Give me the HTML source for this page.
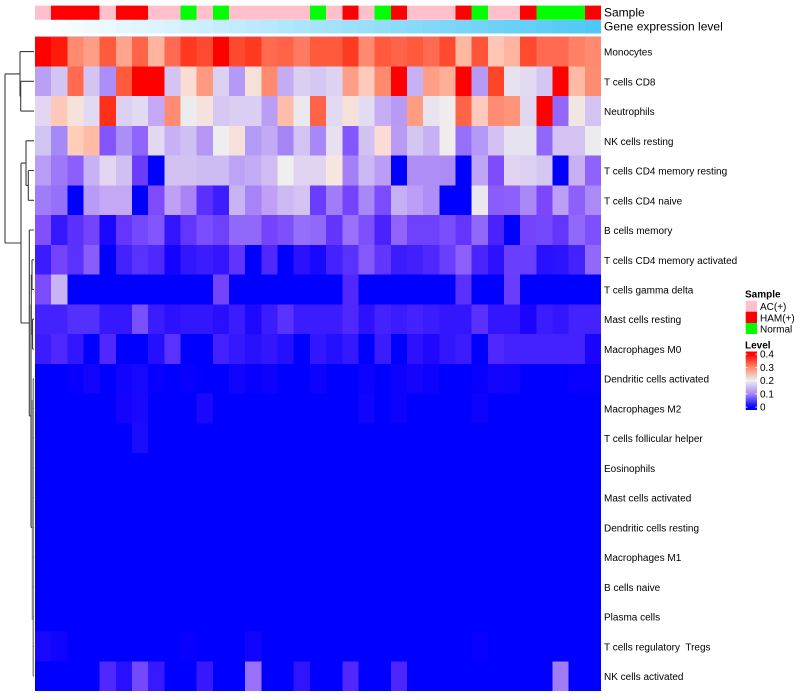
<!DOCTYPE html>
<html><head><meta charset="utf-8"><style>
html,body{margin:0;padding:0;background:#fff;}
svg{display:block;}
text{font-family:"Liberation Sans",Arial,sans-serif;fill:#000;}
</style></head><body>
<svg width="800" height="700" viewBox="0 0 800 700" xmlns="http://www.w3.org/2000/svg">
<rect width="800" height="700" fill="#fff"/>
<!-- Sample annotation -->
<svg x="35" y="5.6" width="566" height="14.2" viewBox="0 0 35 1" preserveAspectRatio="none" shape-rendering="crispEdges">
<rect x="0" y="0" width="35" height="1" fill="#ffc0cb"/>
<rect x="1" width="3" height="1" fill="#f00"/><rect x="5" width="2" height="1" fill="#f00"/>
<rect x="9" width="1" height="1" fill="#0f0"/><rect x="11" width="1" height="1" fill="#0f0"/>
<rect x="17" width="1" height="1" fill="#0f0"/><rect x="19" width="1" height="1" fill="#f00"/>
<rect x="21" width="1" height="1" fill="#0f0"/><rect x="22" width="1" height="1" fill="#f00"/>
<rect x="26" width="1" height="1" fill="#f00"/><rect x="27" width="1" height="1" fill="#0f0"/>
<rect x="30" width="1" height="1" fill="#f00"/><rect x="31" width="3" height="1" fill="#0f0"/>
<rect x="34" width="1" height="1" fill="#f00"/>
</svg>
<!-- Gene expression level -->
<svg x="35" y="19.8" width="566" height="13.7" viewBox="0 0 35 1" preserveAspectRatio="none" shape-rendering="crispEdges">
<rect x="0" width="1" height="1" fill="#ffffff"/><rect x="1" width="1" height="1" fill="#fafdff"/><rect x="2" width="1" height="1" fill="#f5fcff"/><rect x="3" width="1" height="1" fill="#effafe"/><rect x="4" width="1" height="1" fill="#eaf9fe"/><rect x="5" width="1" height="1" fill="#e5f7fe"/><rect x="6" width="1" height="1" fill="#e0f5fe"/><rect x="7" width="1" height="1" fill="#dbf4fd"/><rect x="8" width="1" height="1" fill="#d6f2fd"/><rect x="9" width="1" height="1" fill="#d0f0fd"/><rect x="10" width="1" height="1" fill="#cbeffd"/><rect x="11" width="1" height="1" fill="#c6edfc"/><rect x="12" width="1" height="1" fill="#c1ecfc"/><rect x="13" width="1" height="1" fill="#bceafc"/><rect x="14" width="1" height="1" fill="#b7e8fc"/><rect x="15" width="1" height="1" fill="#b1e7fb"/><rect x="16" width="1" height="1" fill="#ace5fb"/><rect x="17" width="1" height="1" fill="#a7e4fb"/><rect x="18" width="1" height="1" fill="#a2e2fb"/><rect x="19" width="1" height="1" fill="#9de0fb"/><rect x="20" width="1" height="1" fill="#97dffa"/><rect x="21" width="1" height="1" fill="#92ddfa"/><rect x="22" width="1" height="1" fill="#8ddbfa"/><rect x="23" width="1" height="1" fill="#88dafa"/><rect x="24" width="1" height="1" fill="#83d8f9"/><rect x="25" width="1" height="1" fill="#7ed7f9"/><rect x="26" width="1" height="1" fill="#78d5f9"/><rect x="27" width="1" height="1" fill="#73d3f9"/><rect x="28" width="1" height="1" fill="#6ed2f8"/><rect x="29" width="1" height="1" fill="#69d0f8"/><rect x="30" width="1" height="1" fill="#64cff8"/><rect x="31" width="1" height="1" fill="#5fcdf8"/><rect x="32" width="1" height="1" fill="#59cbf7"/><rect x="33" width="1" height="1" fill="#54caf7"/><rect x="34" width="1" height="1" fill="#4fc8f7"/>
</svg>
<!-- Heatmap -->
<svg x="35" y="36.7" width="566" height="654.3" viewBox="0 0 35 22" preserveAspectRatio="none" shape-rendering="crispEdges">
<rect x="0" y="0" width="35" height="22" fill="#0000ff"/>
<g transform="translate(0,0)">
<rect x="0" width="1" height="1" fill="#ff0000"/><rect x="1" width="1" height="1" fill="#ff1a0a"/><rect x="2" width="1" height="1" fill="#ff8a6e"/><rect x="3" width="1" height="1" fill="#ff9e86"/><rect x="4" width="1" height="1" fill="#ff5a3c"/><rect x="5" width="1" height="1" fill="#ffa48c"/><rect x="6" width="1" height="1" fill="#ff6448"/><rect x="7" width="1" height="1" fill="#ffb49e"/><rect x="8" width="1" height="1" fill="#ff6a50"/><rect x="9" width="1" height="1" fill="#ff3820"/><rect x="10" width="1" height="1" fill="#ff4a30"/><rect x="11" width="1" height="1" fill="#ff0000"/><rect x="12" width="1" height="1" fill="#ff4a30"/><rect x="13" width="1" height="1" fill="#ff3a20"/><rect x="14" width="1" height="1" fill="#ff6a50"/><rect x="15" width="1" height="1" fill="#ff6448"/><rect x="16" width="1" height="1" fill="#ff7a60"/><rect x="17" width="1" height="1" fill="#ff5a3c"/><rect x="18" width="1" height="1" fill="#ff5a3c"/><rect x="19" width="1" height="1" fill="#ff3a22"/><rect x="20" width="1" height="1" fill="#ff8a70"/><rect x="21" width="1" height="1" fill="#ff5a3c"/><rect x="22" width="1" height="1" fill="#ff6448"/><rect x="23" width="1" height="1" fill="#ff5a3c"/><rect x="24" width="1" height="1" fill="#ff6a50"/><rect x="25" width="1" height="1" fill="#ff4a30"/><rect x="26" width="1" height="1" fill="#ffb8a0"/><rect x="27" width="1" height="1" fill="#ff5438"/><rect x="28" width="1" height="1" fill="#ffc6b6"/><rect x="29" width="1" height="1" fill="#ffb4a0"/><rect x="30" width="1" height="1" fill="#ff4a30"/><rect x="31" width="1" height="1" fill="#ff6a50"/><rect x="32" width="1" height="1" fill="#ff6a50"/><rect x="33" width="1" height="1" fill="#ff8062"/><rect x="34" width="1" height="1" fill="#ff8a6e"/>
</g>
<g transform="translate(0,1)">
<rect x="0" width="1" height="1" fill="#b9a0f5"/><rect x="1" width="1" height="1" fill="#d4c4f2"/><rect x="2" width="1" height="1" fill="#ff6a50"/><rect x="3" width="1" height="1" fill="#d4c4f2"/><rect x="4" width="1" height="1" fill="#ad8ef8"/><rect x="5" width="1" height="1" fill="#ff5a3c"/><rect x="6" width="1" height="1" fill="#ff0000"/><rect x="7" width="1" height="1" fill="#ff0000"/><rect x="8" width="1" height="1" fill="#d3c4f2"/><rect x="9" width="1" height="1" fill="#fadcd4"/><rect x="10" width="1" height="1" fill="#ff9a80"/><rect x="11" width="1" height="1" fill="#dcd0f2"/><rect x="12" width="1" height="1" fill="#b49af6"/><rect x="13" width="1" height="1" fill="#f5e0da"/><rect x="14" width="1" height="1" fill="#ff8a70"/><rect x="15" width="1" height="1" fill="#c4acf5"/><rect x="16" width="1" height="1" fill="#dacef2"/><rect x="17" width="1" height="1" fill="#d4c8f2"/><rect x="18" width="1" height="1" fill="#dcd2f2"/><rect x="19" width="1" height="1" fill="#ff9e86"/><rect x="20" width="1" height="1" fill="#ffcabb"/><rect x="21" width="1" height="1" fill="#ff8a6e"/><rect x="22" width="1" height="1" fill="#ff0000"/><rect x="23" width="1" height="1" fill="#c8b0f4"/><rect x="24" width="1" height="1" fill="#ff9e86"/><rect x="25" width="1" height="1" fill="#ffae98"/><rect x="26" width="1" height="1" fill="#ff0000"/><rect x="27" width="1" height="1" fill="#b69af6"/><rect x="28" width="1" height="1" fill="#ff4428"/><rect x="29" width="1" height="1" fill="#e8e2ef"/><rect x="30" width="1" height="1" fill="#e2daf0"/><rect x="31" width="1" height="1" fill="#d4c6f2"/><rect x="32" width="1" height="1" fill="#ff0000"/><rect x="33" width="1" height="1" fill="#ffbaa4"/><rect x="34" width="1" height="1" fill="#ff8c70"/>
</g>
<g transform="translate(0,2)">
<rect x="0" width="1" height="1" fill="#e2d6f2"/><rect x="1" width="1" height="1" fill="#ffc8b8"/><rect x="2" width="1" height="1" fill="#f5e2dc"/><rect x="3" width="1" height="1" fill="#e2daf2"/><rect x="4" width="1" height="1" fill="#ff301a"/><rect x="5" width="1" height="1" fill="#dcd0f2"/><rect x="6" width="1" height="1" fill="#e2daf2"/><rect x="7" width="1" height="1" fill="#c4a8f5"/><rect x="8" width="1" height="1" fill="#ff8c72"/><rect x="9" width="1" height="1" fill="#ecebee"/><rect x="10" width="1" height="1" fill="#f5e2de"/><rect x="11" width="1" height="1" fill="#d6c8f2"/><rect x="12" width="1" height="1" fill="#dacef2"/><rect x="13" width="1" height="1" fill="#dacef2"/><rect x="14" width="1" height="1" fill="#ba9ef6"/><rect x="15" width="1" height="1" fill="#ffbca8"/><rect x="16" width="1" height="1" fill="#ebe8ef"/><rect x="17" width="1" height="1" fill="#ff6448"/><rect x="18" width="1" height="1" fill="#e2daf2"/><rect x="19" width="1" height="1" fill="#f5e0da"/><rect x="20" width="1" height="1" fill="#e2dcf2"/><rect x="21" width="1" height="1" fill="#c6aef5"/><rect x="22" width="1" height="1" fill="#b89af6"/><rect x="23" width="1" height="1" fill="#ff9c82"/><rect x="24" width="1" height="1" fill="#e8e4ef"/><rect x="25" width="1" height="1" fill="#f0ebec"/><rect x="26" width="1" height="1" fill="#ff6448"/><rect x="27" width="1" height="1" fill="#ffcabd"/><rect x="28" width="1" height="1" fill="#ff8c72"/><rect x="29" width="1" height="1" fill="#ff947a"/><rect x="30" width="1" height="1" fill="#e0d6f2"/><rect x="31" width="1" height="1" fill="#ff0000"/><rect x="32" width="1" height="1" fill="#9466fa"/><rect x="33" width="1" height="1" fill="#f2e6e2"/><rect x="34" width="1" height="1" fill="#d4c2f2"/>
</g>
<g transform="translate(0,3)">
<rect x="0" width="1" height="1" fill="#d0c4f0"/><rect x="1" width="1" height="1" fill="#a58af7"/><rect x="2" width="1" height="1" fill="#ffcdb8"/><rect x="3" width="1" height="1" fill="#ffbba5"/><rect x="4" width="1" height="1" fill="#8255fd"/><rect x="5" width="1" height="1" fill="#ac8ef7"/><rect x="6" width="1" height="1" fill="#8e66fb"/><rect x="7" width="1" height="1" fill="#e2d8f2"/><rect x="8" width="1" height="1" fill="#c8b0f5"/><rect x="9" width="1" height="1" fill="#cfc0f2"/><rect x="10" width="1" height="1" fill="#b596f5"/><rect x="11" width="1" height="1" fill="#eeeeee"/><rect x="12" width="1" height="1" fill="#f5e0da"/><rect x="13" width="1" height="1" fill="#b39bf6"/><rect x="14" width="1" height="1" fill="#c4aaf5"/><rect x="15" width="1" height="1" fill="#a585f6"/><rect x="16" width="1" height="1" fill="#d3c2f2"/><rect x="17" width="1" height="1" fill="#a888f6"/><rect x="18" width="1" height="1" fill="#e8e0ee"/><rect x="19" width="1" height="1" fill="#8257fd"/><rect x="20" width="1" height="1" fill="#d1c2f1"/><rect x="21" width="1" height="1" fill="#fadcd4"/><rect x="22" width="1" height="1" fill="#b99bf6"/><rect x="23" width="1" height="1" fill="#d3c7f2"/><rect x="24" width="1" height="1" fill="#c8b0f4"/><rect x="25" width="1" height="1" fill="#f0ecec"/><rect x="26" width="1" height="1" fill="#9770fa"/><rect x="27" width="1" height="1" fill="#b49af6"/><rect x="28" width="1" height="1" fill="#d4c0f2"/><rect x="29" width="1" height="1" fill="#e7e2ef"/><rect x="30" width="1" height="1" fill="#e7e2ef"/><rect x="31" width="1" height="1" fill="#9166fa"/><rect x="32" width="1" height="1" fill="#d3c2f2"/><rect x="33" width="1" height="1" fill="#d3c2f2"/><rect x="34" width="1" height="1" fill="#ecebee"/>
</g>
<g transform="translate(0,4)">
<rect x="0" width="1" height="1" fill="#b89cf5"/><rect x="1" width="1" height="1" fill="#9d78f8"/><rect x="2" width="1" height="1" fill="#8a5ffc"/><rect x="3" width="1" height="1" fill="#c7b2f4"/><rect x="4" width="1" height="1" fill="#e2d6f2"/><rect x="5" width="1" height="1" fill="#d0c0f2"/><rect x="6" width="1" height="1" fill="#6a3cfd"/><rect x="8" width="1" height="1" fill="#d2c2f2"/><rect x="9" width="1" height="1" fill="#d2c2f2"/><rect x="10" width="1" height="1" fill="#cdbcf2"/><rect x="11" width="1" height="1" fill="#cdbcf3"/><rect x="12" width="1" height="1" fill="#bda2f6"/><rect x="13" width="1" height="1" fill="#c4abf5"/><rect x="14" width="1" height="1" fill="#cfbcf3"/><rect x="15" width="1" height="1" fill="#efeff0"/><rect x="16" width="1" height="1" fill="#e0d4f2"/><rect x="17" width="1" height="1" fill="#e0d4f2"/><rect x="18" width="1" height="1" fill="#f7e6e0"/><rect x="19" width="1" height="1" fill="#a380f8"/><rect x="20" width="1" height="1" fill="#ccb8f3"/><rect x="21" width="1" height="1" fill="#bb9cf6"/><rect x="23" width="1" height="1" fill="#b08ef7"/><rect x="24" width="1" height="1" fill="#b08ef7"/><rect x="25" width="1" height="1" fill="#ae8cf7"/><rect x="27" width="1" height="1" fill="#c0a4f5"/><rect x="28" width="1" height="1" fill="#7e4cfc"/><rect x="29" width="1" height="1" fill="#e0d4f2"/><rect x="30" width="1" height="1" fill="#dcd0f2"/><rect x="31" width="1" height="1" fill="#d4c8f2"/><rect x="33" width="1" height="1" fill="#c9b0f5"/><rect x="34" width="1" height="1" fill="#8e62fb"/>
</g>
<g transform="translate(0,5)">
<rect x="0" width="1" height="1" fill="#a07cf8"/><rect x="1" width="1" height="1" fill="#9570f9"/><rect x="3" width="1" height="1" fill="#b89bf6"/><rect x="4" width="1" height="1" fill="#c4a8f5"/><rect x="5" width="1" height="1" fill="#c4a8f5"/><rect x="7" width="1" height="1" fill="#7e4afc"/><rect x="8" width="1" height="1" fill="#bea0f5"/><rect x="9" width="1" height="1" fill="#a984f7"/><rect x="10" width="1" height="1" fill="#5b30fd"/><rect x="11" width="1" height="1" fill="#3d1cfe"/><rect x="12" width="1" height="1" fill="#c8b4f4"/><rect x="13" width="1" height="1" fill="#a683f7"/><rect x="14" width="1" height="1" fill="#c0a0f6"/><rect x="15" width="1" height="1" fill="#cdbaf3"/><rect x="16" width="1" height="1" fill="#d3c2f2"/><rect x="17" width="1" height="1" fill="#6a3cfd"/><rect x="18" width="1" height="1" fill="#a07cf8"/><rect x="19" width="1" height="1" fill="#7444fc"/><rect x="20" width="1" height="1" fill="#a888f7"/><rect x="21" width="1" height="1" fill="#7c4cfc"/><rect x="22" width="1" height="1" fill="#c6b0f4"/><rect x="23" width="1" height="1" fill="#bd9ef6"/><rect x="24" width="1" height="1" fill="#b08ef7"/><rect x="27" width="1" height="1" fill="#ebe6ef"/><rect x="28" width="1" height="1" fill="#8a5cfb"/><rect x="29" width="1" height="1" fill="#8e60fb"/><rect x="30" width="1" height="1" fill="#aa88f7"/><rect x="31" width="1" height="1" fill="#7c46fc"/><rect x="32" width="1" height="1" fill="#bd9ef6"/><rect x="33" width="1" height="1" fill="#8e60fb"/><rect x="34" width="1" height="1" fill="#ab8af7"/>
</g>
<g transform="translate(0,6)">
<rect x="0" width="1" height="1" fill="#8150fc"/><rect x="1" width="1" height="1" fill="#3518fe"/><rect x="2" width="1" height="1" fill="#5c30fd"/><rect x="3" width="1" height="1" fill="#7444fc"/><rect x="4" width="1" height="1" fill="#1a08fe"/><rect x="5" width="1" height="1" fill="#6436fd"/><rect x="6" width="1" height="1" fill="#7448fc"/><rect x="7" width="1" height="1" fill="#8256fc"/><rect x="8" width="1" height="1" fill="#3316fe"/><rect x="9" width="1" height="1" fill="#6436fd"/><rect x="10" width="1" height="1" fill="#7a4efc"/><rect x="11" width="1" height="1" fill="#6e42fc"/><rect x="12" width="1" height="1" fill="#9068fa"/><rect x="13" width="1" height="1" fill="#9068fa"/><rect x="14" width="1" height="1" fill="#7444fc"/><rect x="15" width="1" height="1" fill="#7c50fc"/><rect x="16" width="1" height="1" fill="#9470fa"/><rect x="17" width="1" height="1" fill="#9068fa"/><rect x="18" width="1" height="1" fill="#6436fd"/><rect x="19" width="1" height="1" fill="#9870f9"/><rect x="20" width="1" height="1" fill="#7c50fc"/><rect x="21" width="1" height="1" fill="#4a22fe"/><rect x="22" width="1" height="1" fill="#9064fa"/><rect x="23" width="1" height="1" fill="#6e42fc"/><rect x="24" width="1" height="1" fill="#6e42fc"/><rect x="25" width="1" height="1" fill="#7a4efc"/><rect x="26" width="1" height="1" fill="#6436fd"/><rect x="27" width="1" height="1" fill="#9068fa"/><rect x="28" width="1" height="1" fill="#4a22fe"/><rect x="30" width="1" height="1" fill="#7444fc"/><rect x="31" width="1" height="1" fill="#7448fc"/><rect x="32" width="1" height="1" fill="#6436fd"/><rect x="33" width="1" height="1" fill="#9068fa"/><rect x="34" width="1" height="1" fill="#7c50fc"/>
</g>
<g transform="translate(0,7)">
<rect x="0" width="1" height="1" fill="#3a1cfe"/><rect x="1" width="1" height="1" fill="#7444fc"/><rect x="2" width="1" height="1" fill="#5a32fd"/><rect x="3" width="1" height="1" fill="#8a5cfb"/><rect x="5" width="1" height="1" fill="#4422fe"/><rect x="6" width="1" height="1" fill="#5a32fd"/><rect x="7" width="1" height="1" fill="#5028fd"/><rect x="8" width="1" height="1" fill="#1404ff"/><rect x="9" width="1" height="1" fill="#3216fe"/><rect x="10" width="1" height="1" fill="#3a1cfe"/><rect x="11" width="1" height="1" fill="#3416fe"/><rect x="12" width="1" height="1" fill="#6034fd"/><rect x="14" width="1" height="1" fill="#5028fd"/><rect x="16" width="1" height="1" fill="#2c10fe"/><rect x="17" width="1" height="1" fill="#1808ff"/><rect x="18" width="1" height="1" fill="#4422fe"/><rect x="19" width="1" height="1" fill="#5a32fd"/><rect x="20" width="1" height="1" fill="#8458fb"/><rect x="21" width="1" height="1" fill="#6236fd"/><rect x="22" width="1" height="1" fill="#3a1cfe"/><rect x="23" width="1" height="1" fill="#4220fe"/><rect x="24" width="1" height="1" fill="#5028fd"/><rect x="25" width="1" height="1" fill="#6a3efd"/><rect x="26" width="1" height="1" fill="#8e60fb"/><rect x="27" width="1" height="1" fill="#4a24fe"/><rect x="28" width="1" height="1" fill="#2c10fe"/><rect x="29" width="1" height="1" fill="#6a3efd"/><rect x="30" width="1" height="1" fill="#6a3efd"/><rect x="31" width="1" height="1" fill="#2610fe"/><rect x="32" width="1" height="1" fill="#2c14fe"/><rect x="33" width="1" height="1" fill="#4422fe"/><rect x="34" width="1" height="1" fill="#9068fa"/>
</g>
<g transform="translate(0,8)">
<rect x="0" width="1" height="1" fill="#7c4cfc"/><rect x="1" width="1" height="1" fill="#c8b4f5"/><rect x="11" width="1" height="1" fill="#7444fc"/><rect x="19" width="1" height="1" fill="#5028fd"/><rect x="26" width="1" height="1" fill="#5a30fd"/><rect x="29" width="1" height="1" fill="#6a3cfd"/>
</g>
<g transform="translate(0,9)">
<rect x="0" width="1" height="1" fill="#4422fe"/><rect x="1" width="1" height="1" fill="#4422fe"/><rect x="2" width="1" height="1" fill="#5430fd"/><rect x="3" width="1" height="1" fill="#5430fd"/><rect x="4" width="1" height="1" fill="#3618fe"/><rect x="5" width="1" height="1" fill="#3618fe"/><rect x="6" width="1" height="1" fill="#7850fc"/><rect x="7" width="1" height="1" fill="#3a1cfe"/><rect x="8" width="1" height="1" fill="#2c10fe"/><rect x="9" width="1" height="1" fill="#3216fe"/><rect x="10" width="1" height="1" fill="#3216fe"/><rect x="11" width="1" height="1" fill="#2810fe"/><rect x="12" width="1" height="1" fill="#3a1cfe"/><rect x="13" width="1" height="1" fill="#1e08ff"/><rect x="14" width="1" height="1" fill="#3a1cfe"/><rect x="15" width="1" height="1" fill="#5a32fd"/><rect x="16" width="1" height="1" fill="#3a1cfe"/><rect x="17" width="1" height="1" fill="#3a1cfe"/><rect x="18" width="1" height="1" fill="#3a1cfe"/><rect x="19" width="1" height="1" fill="#5028fd"/><rect x="20" width="1" height="1" fill="#2c10fe"/><rect x="21" width="1" height="1" fill="#4422fe"/><rect x="22" width="1" height="1" fill="#3a1cfe"/><rect x="23" width="1" height="1" fill="#4422fe"/><rect x="24" width="1" height="1" fill="#3a1cfe"/><rect x="25" width="1" height="1" fill="#3416fe"/><rect x="26" width="1" height="1" fill="#3416fe"/><rect x="27" width="1" height="1" fill="#5a30fd"/><rect x="28" width="1" height="1" fill="#3416fe"/><rect x="29" width="1" height="1" fill="#3416fe"/><rect x="30" width="1" height="1" fill="#1a04ff"/><rect x="31" width="1" height="1" fill="#3a1cfe"/><rect x="32" width="1" height="1" fill="#3416fe"/><rect x="33" width="1" height="1" fill="#4422fe"/><rect x="34" width="1" height="1" fill="#4422fe"/>
</g>
<g transform="translate(0,10)">
<rect x="0" width="1" height="1" fill="#3a1cfe"/><rect x="1" width="1" height="1" fill="#5028fd"/><rect x="2" width="1" height="1" fill="#3216fe"/><rect x="4" width="1" height="1" fill="#5028fd"/><rect x="7" width="1" height="1" fill="#2410fe"/><rect x="8" width="1" height="1" fill="#5a32fd"/><rect x="11" width="1" height="1" fill="#4422fe"/><rect x="12" width="1" height="1" fill="#3418fe"/><rect x="13" width="1" height="1" fill="#2812fe"/><rect x="14" width="1" height="1" fill="#3216fe"/><rect x="15" width="1" height="1" fill="#2410fe"/><rect x="17" width="1" height="1" fill="#3216fe"/><rect x="18" width="1" height="1" fill="#2410fe"/><rect x="19" width="1" height="1" fill="#3418fe"/><rect x="21" width="1" height="1" fill="#3a1cfe"/><rect x="23" width="1" height="1" fill="#2c10fe"/><rect x="24" width="1" height="1" fill="#2008ff"/><rect x="25" width="1" height="1" fill="#3216fe"/><rect x="26" width="1" height="1" fill="#3a1cfe"/><rect x="28" width="1" height="1" fill="#5028fd"/><rect x="29" width="1" height="1" fill="#4422fe"/><rect x="30" width="1" height="1" fill="#4422fe"/><rect x="31" width="1" height="1" fill="#4422fe"/><rect x="32" width="1" height="1" fill="#4422fe"/><rect x="33" width="1" height="1" fill="#4422fe"/><rect x="34" width="1" height="1" fill="#1a04ff"/>
</g>
<g transform="translate(0,11)">
<rect x="2" width="1" height="1" fill="#0800fe"/><rect x="3" width="1" height="1" fill="#1404fe"/><rect x="5" width="1" height="1" fill="#1004fe"/><rect x="6" width="1" height="1" fill="#1608fe"/><rect x="7" width="1" height="1" fill="#0800fe"/><rect x="9" width="1" height="1" fill="#0800fe"/><rect x="12" width="1" height="1" fill="#1004fe"/><rect x="13" width="1" height="1" fill="#0800fe"/><rect x="14" width="1" height="1" fill="#0c02fe"/><rect x="17" width="1" height="1" fill="#0c02fe"/><rect x="20" width="1" height="1" fill="#0c02fe"/><rect x="22" width="1" height="1" fill="#0c02fe"/><rect x="23" width="1" height="1" fill="#1404fe"/><rect x="24" width="1" height="1" fill="#0c02fe"/><rect x="27" width="1" height="1" fill="#0800fe"/><rect x="28" width="1" height="1" fill="#1404fe"/><rect x="29" width="1" height="1" fill="#1004fe"/><rect x="33" width="1" height="1" fill="#0800fe"/><rect x="34" width="1" height="1" fill="#0800fe"/>
</g>
<g transform="translate(0,12)">
<rect x="5" width="1" height="1" fill="#1404fe"/><rect x="6" width="1" height="1" fill="#1a08fe"/><rect x="10" width="1" height="1" fill="#1a08fe"/><rect x="20" width="1" height="1" fill="#1004fe"/><rect x="22" width="1" height="1" fill="#0c02fe"/><rect x="27" width="1" height="1" fill="#0c02fe"/>
</g>
<g transform="translate(0,13)">
<rect x="6" width="1" height="1" fill="#1a0cfe"/>
</g>
<g transform="translate(0,20)">
<rect x="0" width="1" height="1" fill="#1808fe"/><rect x="1" width="1" height="1" fill="#1004fe"/><rect x="9" width="1" height="1" fill="#0800fe"/><rect x="13" width="1" height="1" fill="#1004fe"/><rect x="27" width="1" height="1" fill="#0800fe"/>
</g>
<g transform="translate(0,21)">
<rect x="4" width="1" height="1" fill="#5028fd"/><rect x="5" width="1" height="1" fill="#2810fe"/><rect x="6" width="1" height="1" fill="#7448fc"/><rect x="7" width="1" height="1" fill="#3818fe"/><rect x="10" width="1" height="1" fill="#3818fe"/><rect x="13" width="1" height="1" fill="#9870f9"/><rect x="16" width="1" height="1" fill="#3014fe"/><rect x="19" width="1" height="1" fill="#5028fd"/><rect x="22" width="1" height="1" fill="#4c26fd"/><rect x="32" width="1" height="1" fill="#a07cf8"/>
</g>
</svg>
<!-- Dendrogram -->
<g fill="none" stroke="#3c3c3c" stroke-width="1.1">
<path d="M20.7 81.3H34M20.7 111.1H34M20.7 81.3V111.1"/>
<path d="M20 51.6H34M20 96.2H20.7M20 51.6V96.2"/>
<path d="M28.3 170.5H34M28.3 200.3H34M28.3 170.5V200.3"/>
<path d="M26 140.8H34M26 185.4H28.3M26 140.8V185.4"/>
<path d="M32 259.8H34M32 289.5H34M32 259.8V289.5"/>
<path d="M32.5 319.2H34M32.5 349H34M32.5 319.2V349"/>
<path d="M31.3 274.7H32M31.3 334.1H32.5M31.3 274.7V334.1"/>
<path d="M31 304.4H31.3M31 527.4H33M31 304.4V527.4"/>
<path d="M29.3 230H34M29.3 415.9H31M29.3 230V415.9"/>
<path d="M21 163.1H26M21 323H29.3M21 163.1V323"/>
<path d="M5 73.9H20M5 243H21M5 73.9V243"/>
</g>
<g fill="none" stroke="#666" stroke-width="1.1">
<path d="M33.2 378.7V676.1M33.2 378.7H34M33.2 408.5H34M33.2 438.2H34M33.2 468H34M33.2 497.7H34M33.2 527.4H34M33.2 557.2H34M33.2 586.9H34M33.2 616.7H34M33.2 646.4H34M33.2 676.1H34"/>
<path d="M32.3 400V620" stroke="#888"/>
</g>
<!-- Annotation names -->
<text x="604" y="16.7" font-size="12">Sample</text>
<text x="604" y="30.3" font-size="12">Gene expression level</text>
<!-- Row labels -->
<g font-size="10">
<text x="604" y="55.6">Monocytes</text>
<text x="604" y="85.3">T cells CD8</text>
<text x="604" y="115.1">Neutrophils</text>
<text x="604" y="144.8">NK cells resting</text>
<text x="604" y="174.5">T cells CD4 memory resting</text>
<text x="604" y="204.3">T cells CD4 naive</text>
<text x="604" y="234">B cells memory</text>
<text x="604" y="263.8">T cells CD4 memory activated</text>
<text x="604" y="293.5">T cells gamma delta</text>
<text x="604" y="323.2">Mast cells resting</text>
<text x="604" y="353">Macrophages M0</text>
<text x="604" y="382.7">Dendritic cells activated</text>
<text x="604" y="412.5">Macrophages M2</text>
<text x="604" y="442.2">T cells follicular helper</text>
<text x="604" y="472">Eosinophils</text>
<text x="604" y="501.7">Mast cells activated</text>
<text x="604" y="531.4">Dendritic cells resting</text>
<text x="604" y="561.2">Macrophages M1</text>
<text x="604" y="590.9">B cells naive</text>
<text x="604" y="620.7">Plasma cells</text>
<text x="604" y="650.4" xml:space="preserve">T cells regulatory  Tregs</text>
<text x="604" y="680.1">NK cells activated</text>
</g>
<!-- Legend -->
<text x="745" y="297.5" font-size="10" font-weight="bold">Sample</text>
<rect x="745.7" y="300.7" width="11.3" height="11" fill="#ffc0cb"/>
<rect x="745.7" y="311.7" width="11.3" height="11.3" fill="#ff0000"/>
<rect x="745.7" y="323" width="11.3" height="11" fill="#00ff00"/>
<g font-size="10">
<text x="760" y="310">AC(+)</text>
<text x="760" y="321.3">HAM(+)</text>
<text x="760" y="332.7">Normal</text>
</g>
<text x="745" y="348.3" font-size="10" font-weight="bold">Level</text>
<defs>
<linearGradient id="lv" gradientUnits="userSpaceOnUse" x1="0" y1="354.1" x2="0" y2="407.1">
<stop offset="0" stop-color="#ff0000"/>
<stop offset="0.25" stop-color="#ff8a6e"/>
<stop offset="0.5" stop-color="#eeeeee"/>
<stop offset="0.75" stop-color="#a888f7"/>
<stop offset="1" stop-color="#0000ff"/>
</linearGradient>
</defs>
<rect x="745.7" y="351.5" width="11.3" height="58.5" fill="url(#lv)"/>
<g stroke="#fff" stroke-width="0.8">
<path d="M745.7 354.1h1.8M755.2 354.1h1.8M745.7 367.4h1.8M755.2 367.4h1.8M745.7 380.6h1.8M755.2 380.6h1.8M745.7 393.9h1.8M755.2 393.9h1.8M745.7 407.1h1.8M755.2 407.1h1.8"/>
</g>
<g font-size="10">
<text x="760" y="357.7">0.4</text>
<text x="760" y="371">0.3</text>
<text x="760" y="384.2">0.2</text>
<text x="760" y="397.5">0.1</text>
<text x="760" y="410.7">0</text>
</g>
</svg>
</body></html>
